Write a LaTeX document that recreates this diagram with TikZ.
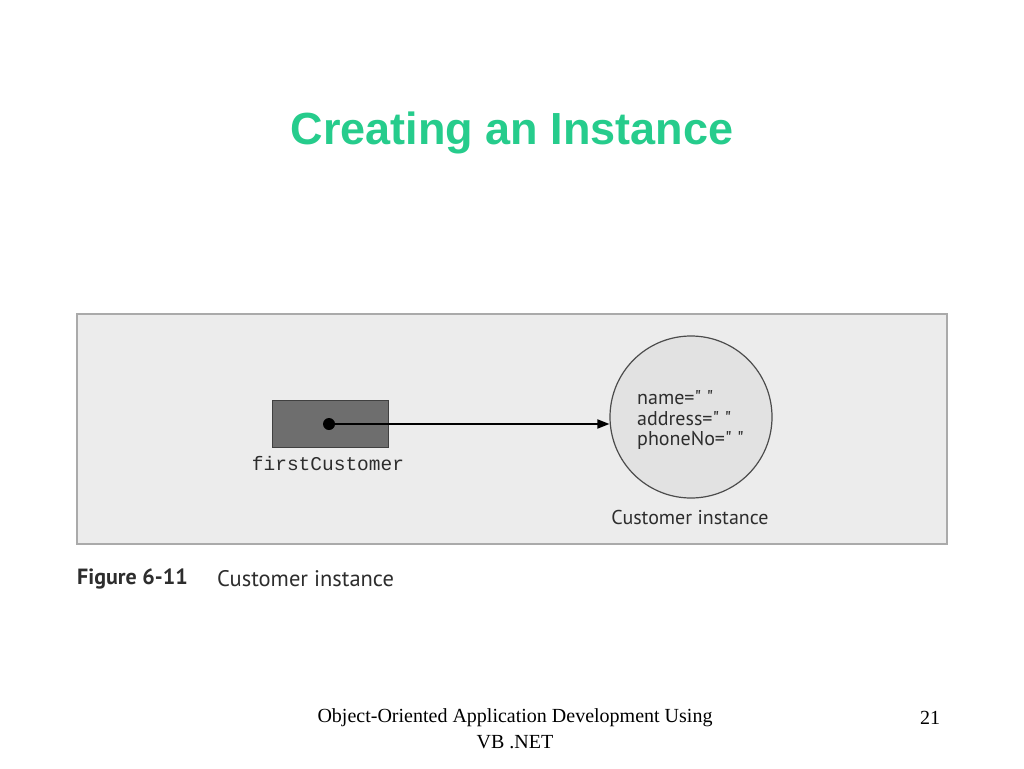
\documentclass[tikz,border=0pt]{standalone}
\usepackage{fontspec}
\setmainfont{Liberation Serif}
\newfontfamily\titlefont{Liberation Sans}
\newfontfamily\figfont{PT Sans}
\newfontfamily\monofont{Liberation Mono}
\usetikzlibrary{arrows.meta}
\definecolor{titlegreen}{RGB}{38,204,140}
\definecolor{panelfill}{RGB}{236,236,236}
\definecolor{panelline}{RGB}{170,170,170}
\definecolor{boxfill}{RGB}{110,110,110}
\definecolor{circfill}{RGB}{226,226,226}
\definecolor{figink}{RGB}{45,45,45}
\tikzset{
  figtext/.style={font=\figfont\fontsize{20}{24}\selectfont, text=figink, inner sep=0pt},
  foot/.style={font=\fontsize{20}{24}\selectfont, inner sep=0pt},
}
\begin{document}
\begin{tikzpicture}[x=1pt,y=-1pt]
\useasboundingbox (0,0) rectangle (1024,768);
\fill[white] (0,0) rectangle (1024,768);
\node[font=\titlefont\bfseries\fontsize{45}{52}\selectfont, text=titlegreen, inner sep=0pt] (title) at (512,133) {Creating an Instance};
\draw[panelline, fill=panelfill, line width=1.5pt] (77,314) rectangle (947,544);
\node[draw=black!75, fill=boxfill, minimum width=116pt, minimum height=47pt, inner sep=0pt, line width=0.8pt] (var) at (330,424) {};
\node[circle, fill=black, minimum size=12pt, inner sep=0pt] (dot) at (329,424) {};
\node[circle, draw=black!70, fill=circfill, minimum size=162pt, inner sep=0pt, line width=1.2pt] (inst) at (691,417) {};
\draw[line width=1.8pt, -{Triangle[length=12pt,width=9pt]}] (dot.center) -- (dot -| inst.west);
\node[font=\monofont\fontsize{19.5}{22}\selectfont, text=figink, inner sep=0pt] (varname) at (328,464) {firstCustomer};
\node[figtext, anchor=west] (f1) at (637,398) {name=" "};
\node[figtext, anchor=west] (f2) at (637,419) {address=" "};
\node[figtext, anchor=west] (f3) at (637,440) {phoneNo=" "};
\node[figtext] (instlabel) at (690,517) {Customer instance};
\node[figtext, font=\figfont\bfseries\fontsize{22}{26}\selectfont, anchor=west] (fignum) at (77,579) {Figure 6-11};
\node[figtext, font=\figfont\fontsize{22.5}{26}\selectfont, anchor=west] (figcap) at (217,579) {Customer instance};
\node[foot] (foot1) at (515,718) {Object-Oriented Application Development Using};
\node[foot] (foot2) at (515,742) {VB .NET};
\node[foot] (page) at (930,718) {21};
\end{tikzpicture}
\end{document}
